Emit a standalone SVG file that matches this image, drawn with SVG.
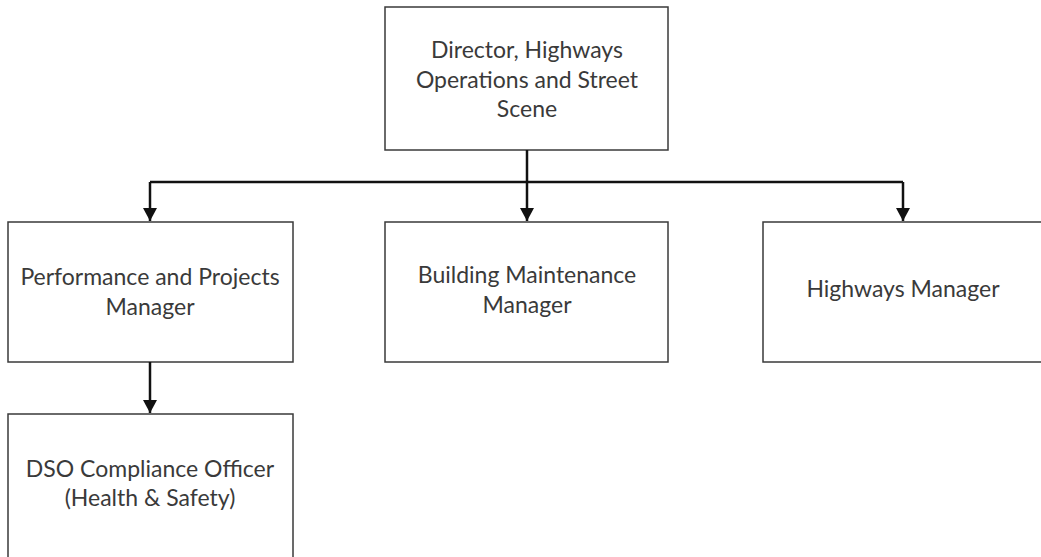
<svg xmlns="http://www.w3.org/2000/svg" width="1041" height="557" viewBox="0 0 1041 557">
  <style>
    .box { fill: #ffffff; stroke: #3a3a3a; stroke-width: 1.5; }
    .label { font-family: Lato, "Open Sans", "Liberation Sans", sans-serif; font-size: 23px; fill: #3a3a3a; text-anchor: middle; }
    .wire { fill: none; stroke: #111111; stroke-width: 2.5; }
  </style>
  <defs>
    <marker id="arrow" markerWidth="15" markerHeight="14" refX="13" refY="7" orient="auto" markerUnits="userSpaceOnUse">
      <path d="M0,0 L13,7 L0,14 Z" fill="#111111"/>
    </marker>
  </defs>
  <rect width="1041" height="557" fill="#ffffff"/>

  <g id="director">
    <rect class="box" x="385" y="7" width="283" height="143"/>
    <text class="label" x="527" y="58">Director, Highways</text>
    <text class="label" x="527" y="88">Operations and Street</text>
    <text class="label" x="527" y="117">Scene</text>
  </g>

  <g id="performance-projects">
    <rect class="box" x="8" y="222" width="285" height="140"/>
    <text class="label" x="150" y="285">Performance and Projects</text>
    <text class="label" x="150" y="315">Manager</text>
  </g>

  <g id="building-maintenance">
    <rect class="box" x="385" y="222" width="283" height="140"/>
    <text class="label" x="527" y="283">Building Maintenance</text>
    <text class="label" x="527" y="313">Manager</text>
  </g>

  <g id="highways-manager">
    <rect class="box" x="763" y="222" width="284" height="140"/>
    <text class="label" x="903" y="297">Highways Manager</text>
  </g>

  <g id="dso-compliance">
    <rect class="box" x="8" y="414" width="285" height="150"/>
    <text class="label" x="150" y="477">DSO Compliance Officer</text>
    <text class="label" x="150" y="506">(Health &amp; Safety)</text>
  </g>

  <g id="connectors">
    <path class="wire" d="M527,150 V182"/>
    <path class="wire" d="M150,182 H903"/>
    <path class="wire" d="M150,182 V221" marker-end="url(#arrow)"/>
    <path class="wire" d="M527,182 V221" marker-end="url(#arrow)"/>
    <path class="wire" d="M903,182 V221" marker-end="url(#arrow)"/>
    <path class="wire" d="M150,362 V413" marker-end="url(#arrow)"/>
  </g>
</svg>
